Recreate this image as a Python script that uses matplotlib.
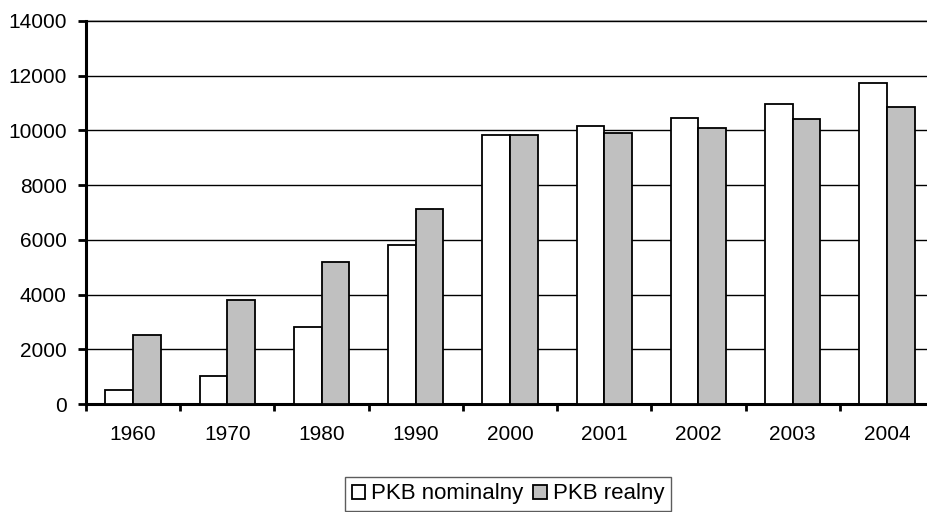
import matplotlib
matplotlib.use("Agg")
import matplotlib.pyplot as plt
import numpy as np

categories = ["1960", "1970", "1980", "1990", "2000", "2001", "2002", "2003", "2004"]
nominal = [500, 1030, 2800, 5820, 9840, 10150, 10470, 10980, 11730]
real = [2530, 3800, 5180, 7140, 9840, 9910, 10090, 10400, 10860]
yticks = [0, 2000, 4000, 6000, 8000, 10000, 12000, 14000]

plt.rcParams['font.family'] = ['Liberation Sans', 'DejaVu Sans']

fig = plt.figure(figsize=(9.27, 5.12), dpi=100)
left_px, right_px, top_px, bot_px = 86, 934, 21, 404
ax = fig.add_axes([left_px/927, 1-bot_px/512, (right_px-left_px)/927, (bot_px-top_px)/512])

x = np.arange(len(categories))
w = 0.294
ax.bar(x - w/2, nominal, width=w, color='white', edgecolor='black', linewidth=1.3,
       label='PKB nominalny', zorder=3)
ax.bar(x + w/2, real, width=w, color='#c0c0c0', edgecolor='black', linewidth=1.3,
       label='PKB realny', zorder=3)

ax.set_xlim(-0.5, len(categories) - 0.5)
ax.set_ylim(0, 14000)
ax.set_yticks(yticks)
ax.set_yticklabels([str(v) for v in yticks], fontsize=15)
ax.set_xticks(x)
ax.set_xticklabels(categories, fontsize=15)
ax.set_xticks(np.arange(-0.5, len(categories)), minor=True)
ax.tick_params(axis='x', which='major', length=0, pad=15)
ax.tick_params(axis='x', which='minor', length=5, width=2, direction='out')
ax.tick_params(axis='y', length=6, width=2, direction='out', pad=8)

ax.grid(axis='y', color='black', linewidth=1, zorder=0)
for s in ['top', 'right']:
    ax.spines[s].set_visible(False)
ax.spines['left'].set_linewidth(2.2)
ax.spines['bottom'].set_linewidth(2.2)
ax.axhline(14000, color='#808080', linewidth=1.2, zorder=1, clip_on=False)

leg = fig.legend(loc='center', bbox_to_anchor=(508/927, 1-494/512), ncol=2,
                 frameon=True, fancybox=False, edgecolor='#333333', fontsize=16,
                 handlelength=0.6, handleheight=0.6, handletextpad=0.27,
                 columnspacing=0.45, borderpad=0.3, borderaxespad=0)
leg.get_frame().set_linewidth(1)

fig.savefig("out.png", dpi=100)
